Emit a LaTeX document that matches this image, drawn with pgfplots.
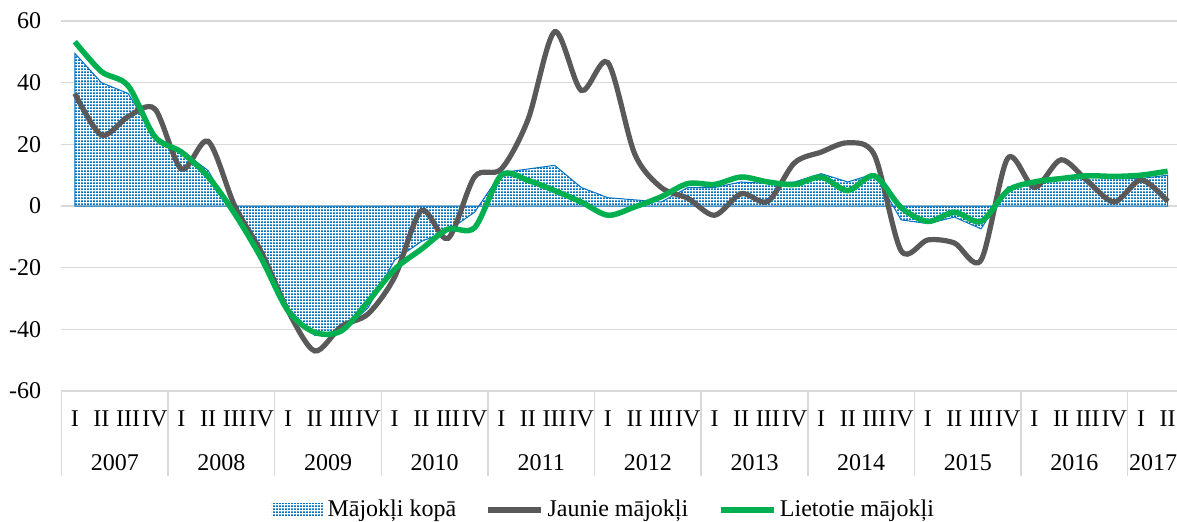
\documentclass[border=0pt,12pt]{standalone}
\usepackage{fontspec}
\setmainfont{Liberation Serif}
\usepackage{pgfplots}
\usepackage{pgfplotstable}
\pgfplotsset{compat=1.18}
\usetikzlibrary{patterns}
\definecolor{gridgray}{HTML}{D9D9D9}
\definecolor{newgray}{HTML}{595959}
\definecolor{usedgreen}{HTML}{00B050}
\definecolor{dotblue}{HTML}{0070C0}
\pgfdeclarepatternformonly{bluedots}{\pgfpointorigin}{\pgfpoint{1.65pt}{1.4pt}}{\pgfpoint{1.65pt}{1.4pt}}{\pgfpathrectangle{\pgfpointorigin}{\pgfpoint{1.1pt}{0.9pt}}\pgfusepath{fill}}
\pgfplotsset{
  lineleg/.style={legend image code/.code={\draw[##1] (0pt,0pt) -- (26.5pt,0pt);}},
  arealeg/.style={legend image code/.code={\draw[pattern=bluedots, pattern color=dotblue, draw=none] (0pt,-3pt) rectangle (26pt,3pt);}},
}

\pgfplotstableread{
i total new used
0 49.5 36.5 53.3
1 40 23 43.6
2 36.5 29 39
3 22.5 31.5 22.5
4 18 12 17.5
5 11.5 21 9.5
6 -3 0 -2.5
7 -15.5 -15 -17
8 -33 -34 -34
9 -42 -47 -41
10 -41 -39 -40.5
11 -33 -35 -31
12 -17.5 -23 -20.5
13 -11.5 -1.5 -14
14 -8 -10.5 -7.5
15 -2 9.5 -7
16 10.8 12 10
17 12 28 8.3
18 13.2 56.5 5
19 6 37.5 1.3
20 2.7 46.5 -3
21 2 17 -0.3
22 1.3 6 3
23 6 2.5 7.3
24 6 -3 7
25 7.8 4 9.4
26 7.3 1.5 7.8
27 7.8 14 7
28 10.5 17.5 9.4
29 7.8 20.5 5
30 10.5 16.5 9.8
31 -4.5 -14.5 -0.5
32 -5.7 -11 -5
33 -3.6 -12 -2
34 -7.4 -17.5 -5
35 6.2 15.5 5
36 7.3 6 7.8
37 9.4 15 8.9
38 10 8 9.8
39 8.9 1.3 9.6
40 8.9 8.5 10
41 10 1.5 11.3
}\datatable

\begin{document}
\begin{tikzpicture}
\begin{axis}[
  scale only axis, width=557.75pt, height=185pt,
  xmin=-0.5, xmax=41.35, ymin=-60, ymax=60,
  ytick={-60,-40,...,60},
  ymajorgrids, grid style={draw=gridgray, line width=0.75pt},
  axis line style={draw=none}, tick style={draw=none},
  xtick={0,...,41},
  xticklabels={I,II,III,IV,I,II,III,IV,I,II,III,IV,I,II,III,IV,I,II,III,IV,I,II,III,IV,I,II,III,IV,I,II,III,IV,I,II,III,IV,I,II,III,IV,I,II},
  xticklabel style={anchor=base, inner sep=0pt, yshift=-17.6pt},
  yticklabel style={anchor=east, inner sep=0pt, xshift=-10pt},
  /pgf/number format/assume math mode=true,
  clip=false,
  legend columns=3,
  legend style={at={(0.487,-0.3216)}, anchor=center, draw=none, fill=none,
    /tikz/every even column/.append style={column sep=13pt},
    nodes={inner sep=1.8pt}},
]
\addplot[pattern=bluedots, pattern color=dotblue, draw=dotblue, line width=0.5pt, arealeg]
  table[x=i, y=total] {\datatable} \closedcycle;
\addlegendentry{Mājokļi kopā}
\addplot[newgray, line width=2.6pt, smooth, lineleg]
  table[x=i, y=new] {\datatable};
\addlegendentry{Jaunie mājokļi}
\addplot[usedgreen, line width=2.75pt, smooth, lineleg]
  table[x=i, y=used] {\datatable};
\addlegendentry{Lietotie mājokļi}
\pgfplotsinvokeforeach{0,...,10}{
  \draw[gridgray, line width=0.75pt] (axis cs:{4*#1-0.5},-60) -- ([yshift=-42.5pt]axis cs:{4*#1-0.5},-60);
}
\pgfplotsinvokeforeach{0,...,9}{
  \node[anchor=base, inner sep=0pt, yshift=-39.5pt] at (axis cs:{4*#1+1.5},-60) {\the\numexpr2007+#1\relax};
}
\node[anchor=base, inner sep=0pt, yshift=-39.5pt] at (axis cs:40.45,-60) {2017};
\coordinate (bl) at (rel axis cs:0,0);
\end{axis}
\pgfresetboundingbox
\path (bl) ++(-30.75pt,-65pt) rectangle ++(588.5pt,260.5pt);
\end{tikzpicture}
\end{document}
